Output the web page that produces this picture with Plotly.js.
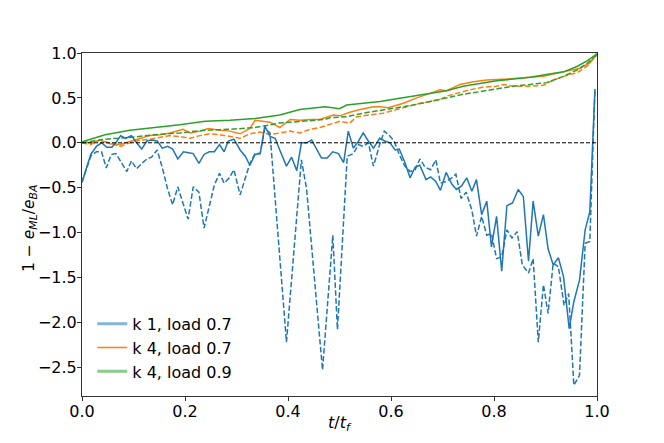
<!DOCTYPE html>
<html>
<head>
<meta charset="utf-8">
<script src="https://cdn.plot.ly/plotly-3.0.1.min.js"></script>
<style>
  html, body { margin: 0; padding: 0; background: #fff; }
  #chart { width: 664px; height: 443px; }
</style>
</head>
<body>
<div id="chart"></div>
<script>
// k 1, load 0.7 — solid and dashed
const k1SolidT = [0.000, 0.017, 0.028, 0.038, 0.048, 0.058, 0.067, 0.075, 0.085, 0.096,
  0.106, 0.116, 0.126, 0.135, 0.146, 0.156, 0.166, 0.176, 0.186, 0.197,
  0.207, 0.216, 0.227, 0.237, 0.247, 0.257, 0.267, 0.276, 0.284, 0.295,
  0.307, 0.317, 0.326, 0.336, 0.346, 0.355, 0.365, 0.375, 0.384, 0.397,
  0.407, 0.417, 0.426, 0.436, 0.446, 0.456, 0.465, 0.476, 0.487, 0.498,
  0.508, 0.517, 0.527, 0.537, 0.546, 0.556, 0.566, 0.578, 0.588, 0.598,
  0.608, 0.616, 0.627, 0.637, 0.647, 0.656, 0.668, 0.677, 0.687, 0.696,
  0.707, 0.718, 0.727, 0.737, 0.747, 0.757, 0.766, 0.776, 0.786, 0.795,
  0.805, 0.815, 0.825, 0.836, 0.847, 0.857, 0.867, 0.876, 0.886, 0.896,
  0.905, 0.915, 0.925, 0.935, 0.946, 0.955, 0.966, 0.977, 0.986, 0.996];
const k1SolidV = [-0.44, -0.13, -0.04, 0.00, -0.05, -0.05, 0.01, 0.08, 0.05, 0.08,
  0.00, -0.07, 0.02, 0.03, 0.02, -0.06, -0.04, -0.07, -0.18, -0.10,
  -0.11, -0.12, -0.23, -0.13, -0.10, -0.10, -0.02, -0.10, 0.02, 0.04,
  -0.08, -0.15, -0.25, -0.13, -0.12, 0.19, 0.07, 0.05, -0.08, -0.26,
  -0.16, -0.31, 0.00, 0.00, 0.03, -0.08, -0.17, -0.17, -0.10, -0.12,
  -0.22, 0.13, -0.06, 0.02, 0.11, 0.02, -0.06, 0.05, 0.02, 0.00,
  -0.08, -0.07, -0.22, -0.39, -0.27, -0.25, -0.41, -0.38, -0.43, -0.53,
  -0.33, -0.46, -0.52, -0.48, -0.39, -0.54, -0.41, -0.80, -0.65, -1.16,
  -0.82, -1.43, -0.70, -0.67, -0.52, -0.60, -1.32, -0.65, -1.04, -0.80,
  -1.18, -1.36, -1.28, -1.49, -2.07, -1.77, -1.53, -0.97, -0.77, 0.60];

const k1DashT = [0.000, 0.017, 0.028, 0.038, 0.047, 0.057, 0.066, 0.077, 0.087, 0.096,
  0.106, 0.116, 0.126, 0.135, 0.146, 0.157, 0.166, 0.176, 0.186, 0.197,
  0.206, 0.216, 0.227, 0.237, 0.247, 0.257, 0.267, 0.276, 0.286, 0.295,
  0.307, 0.317, 0.326, 0.336, 0.346, 0.355, 0.365, 0.397, 0.426, 0.436,
  0.467, 0.487, 0.496, 0.515, 0.527, 0.537, 0.546, 0.556, 0.566, 0.578,
  0.587, 0.597, 0.606, 0.616, 0.627, 0.637, 0.647, 0.656, 0.666, 0.677,
  0.687, 0.696, 0.707, 0.718, 0.726, 0.736, 0.746, 0.757, 0.766, 0.776,
  0.786, 0.795, 0.805, 0.815, 0.825, 0.835, 0.845, 0.855, 0.867, 0.876,
  0.886, 0.896, 0.905, 0.915, 0.925, 0.936, 0.945, 0.955, 0.966, 0.977,
  0.986, 0.996];
const k1DashV = [-0.44, -0.15, -0.10, -0.10, -0.28, -0.13, -0.12, -0.23, -0.32, -0.20,
  -0.29, -0.23, -0.18, -0.16, -0.08, -0.30, -0.51, -0.69, -0.49, -0.69,
  -0.85, -0.49, -0.55, -0.95, -0.71, -0.47, -0.34, -0.45, -0.39, -0.30,
  -0.58, -0.39, -0.23, -0.12, -0.12, 0.16, 0.11, -2.22, -0.19, -0.51,
  -2.53, -1.03, -2.08, -0.15, -0.12, -0.02, -0.04, 0.00, -0.26, -0.02,
  0.13, 0.08, 0.02, -0.13, -0.26, -0.32, -0.30, -0.18, -0.27, -0.30,
  -0.19, -0.45, -0.43, -0.39, -0.35, -0.62, -0.55, -0.75, -1.04, -0.82,
  -1.03, -1.01, -1.29, -1.27, -0.97, -1.06, -0.99, -1.36, -1.45, -1.29,
  -2.22, -1.58, -1.90, -1.34, -1.38, -1.81, -1.68, -2.70, -2.59, -1.12,
  -1.10, 0.60];

// k 4, load 0.7
const k4aSolidT = [0.000, 0.016, 0.035, 0.054, 0.074, 0.093, 0.113, 0.132, 0.151, 0.171,
  0.196, 0.210, 0.229, 0.245, 0.268, 0.287, 0.307, 0.326, 0.336, 0.365,
  0.384, 0.404, 0.423, 0.443, 0.462, 0.488, 0.501, 0.520, 0.540, 0.566,
  0.579, 0.595, 0.624, 0.650, 0.676, 0.695, 0.708, 0.734, 0.760, 0.786,
  0.825, 0.844, 0.870, 0.896, 0.935, 0.967, 0.986, 1.000];
const k4aSolidV = [0.01, 0.00, 0.03, -0.01, -0.02, 0.01, 0.05, 0.08, 0.09, 0.11,
  0.15, 0.11, 0.13, 0.16, 0.14, 0.13, 0.10, 0.16, 0.25, 0.23,
  0.17, 0.26, 0.25, 0.26, 0.26, 0.31, 0.30, 0.34, 0.37, 0.40,
  0.40, 0.39, 0.44, 0.50, 0.55, 0.59, 0.58, 0.65, 0.68, 0.70,
  0.71, 0.72, 0.73, 0.74, 0.79, 0.83, 0.89, 1.00];

const k4aDashT = [0.000, 0.016, 0.035, 0.054, 0.074, 0.093, 0.113, 0.132, 0.151, 0.171,
  0.190, 0.210, 0.229, 0.248, 0.268, 0.287, 0.307, 0.326, 0.346, 0.365,
  0.384, 0.404, 0.423, 0.443, 0.462, 0.482, 0.501, 0.520, 0.533, 0.559,
  0.585, 0.611, 0.637, 0.656, 0.676, 0.695, 0.708, 0.727, 0.753, 0.779,
  0.805, 0.818, 0.837, 0.870, 0.896, 0.909, 0.935, 0.961, 0.980, 1.000];
const k4aDashV = [0.00, -0.02, 0.03, 0.00, -0.04, 0.00, 0.03, 0.04, 0.06, 0.08,
  0.07, 0.05, 0.08, 0.10, 0.09, 0.07, 0.05, 0.10, 0.12, 0.09,
  0.11, 0.13, 0.11, 0.15, 0.17, 0.21, 0.24, 0.22, 0.29, 0.31,
  0.33, 0.37, 0.41, 0.44, 0.46, 0.48, 0.52, 0.55, 0.59, 0.62,
  0.63, 0.65, 0.63, 0.63, 0.64, 0.68, 0.74, 0.78, 0.85, 0.98];

// k 4, load 0.9
const k4bSolidT = [0.000, 0.045, 0.093, 0.142, 0.190, 0.239, 0.287, 0.336, 0.384, 0.423,
  0.472, 0.500, 0.514, 0.546, 0.579, 0.611, 0.643, 0.676, 0.708, 0.740,
  0.773, 0.805, 0.837, 0.870, 0.902, 0.935, 0.961, 0.980, 1.000];
const k4bSolidV = [0.01, 0.09, 0.14, 0.17, 0.20, 0.24, 0.25, 0.27, 0.31, 0.37,
  0.40, 0.38, 0.42, 0.44, 0.46, 0.49, 0.52, 0.55, 0.58, 0.63,
  0.66, 0.69, 0.71, 0.73, 0.76, 0.79, 0.85, 0.91, 0.99];

const k4bDashT = [0.000, 0.045, 0.093, 0.142, 0.190, 0.239, 0.287, 0.336, 0.384, 0.423,
  0.472, 0.482, 0.514, 0.546, 0.579, 0.611, 0.643, 0.676, 0.708, 0.740,
  0.773, 0.805, 0.837, 0.870, 0.902, 0.935, 0.961, 0.980, 1.000];
const k4bDashV = [0.00, 0.04, 0.06, 0.09, 0.11, 0.14, 0.15, 0.17, 0.22, 0.24,
  0.26, 0.28, 0.29, 0.33, 0.36, 0.39, 0.42, 0.46, 0.50, 0.54,
  0.57, 0.60, 0.63, 0.65, 0.67, 0.74, 0.81, 0.88, 0.98];

const legendLabels = ['k 1, load 0.7', 'k 4, load 0.7', 'k 4, load 0.9'];
const xTicks = [0, 0.2, 0.4, 0.6, 0.8, 1.0];
const yTicks = [-2.5, -2.0, -1.5, -1.0, -0.5, 0.0, 0.5, 1.0];
const xTitle = '<i>t</i>/<i>t</i><sub><i>f</i></sub>';
const yTitle = '1 \u2212 <i>e</i><sub><i>ML</i></sub>/<i>e</i><sub><i>BA</i></sub>';

const BLUE = '#1f77b4';
const ORANGE = '#ff7f0e';
const GREEN = '#2ca02c';
const DASH = '5.5px,2.4px';
const FONT = 'DejaVu Sans';
const FS = 16;

function line(x, y, color, dashed) {
  return {
    x: x, y: y, type: 'scatter', mode: 'lines', showlegend: false,
    line: { color: color, width: 1.5, dash: dashed ? DASH : 'solid' },
    hoverinfo: 'skip',
  };
}

// legend-only entries, styled like the reference legend handles
function legendEntry(name, color, width) {
  return {
    x: [null], y: [null], type: 'scatter', mode: 'lines', name: name,
    line: { color: color, width: width },
  };
}

const traces = [
  line(k4aSolidT, k4aSolidV, ORANGE, false),
  line(k4aDashT, k4aDashV, ORANGE, true),
  line(k4bSolidT, k4bSolidV, GREEN, false),
  line(k4bDashT, k4bDashV, GREEN, true),
  line(k1SolidT, k1SolidV, BLUE, false),
  line(k1DashT, k1DashV, BLUE, true),
  legendEntry(legendLabels[0], 'rgba(31,119,180,0.55)', 3),
  legendEntry(legendLabels[1], ORANGE, 1.5),
  legendEntry(legendLabels[2], 'rgba(44,160,44,0.55)', 3),
];

const axisCommon = {
  showgrid: false, zeroline: false,
  showline: true, mirror: true, linecolor: '#333', linewidth: 1,
  ticks: 'outside', ticklen: 4, tickwidth: 1, tickcolor: '#333',
  ticklabelstandoff: -3,
  tickfont: { family: FONT, size: FS, color: '#000' },
  tickformat: '.1f',
};

const layout = {
  width: 664, height: 443,
  margin: { l: 82, r: 67, t: 53, b: 47 },
  paper_bgcolor: '#fff', plot_bgcolor: '#fff',
  font: { family: FONT, size: FS, color: '#000' },
  xaxis: { ...axisCommon, range: [0, 1], tickvals: xTicks },
  yaxis: { ...axisCommon, range: [-2.82, 1.0], tickvals: yTicks },
  shapes: [{
    type: 'line', xref: 'paper', yref: 'y', x0: 0, x1: 1, y0: 0, y1: 0,
    line: { color: '#000', width: 1, dash: '4px,2px' },
  }],
  annotations: [
    { text: xTitle, xref: 'paper', yref: 'paper', x: 0.5, y: -0.08,
      xanchor: 'center', yanchor: 'middle', showarrow: false,
      font: { family: FONT, size: FS, color: '#000' } },
    { text: yTitle, xref: 'paper', yref: 'paper', x: -0.101, y: 0.49,
      xanchor: 'center', yanchor: 'middle', textangle: -90, showarrow: false,
      font: { family: FONT, size: 15.5, color: '#000' } },
  ],
  legend: {
    x: 0.02, y: 0.26, xanchor: 'left', yanchor: 'top',
    bgcolor: 'rgba(0,0,0,0)', borderwidth: 0,
    font: { family: FONT, size: FS, color: '#000' },
    tracegroupgap: 0,
  },
};

Plotly.newPlot('chart', traces, layout, { displayModeBar: false, staticPlot: true });
</script>
</body>
</html>
